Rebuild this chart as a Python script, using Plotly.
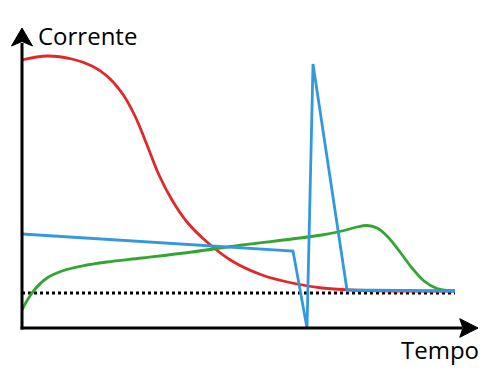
import plotly.graph_objects as go

# Data (time units, current units)
red_t = [0, 25, 50, 70, 85, 100, 113, 125, 137, 150, 165, 185, 210, 240, 270, 300, 330, 380, 433]
red_i = [268, 272, 269, 262, 252, 235, 212, 183, 153, 128, 106, 86, 67, 53, 45, 40, 38, 37, 37]

blue_t = [0, 271, 285, 291, 325, 433]
blue_i = [94, 77, 0, 264, 38, 37]

green_t = [0, 6, 14, 25, 40, 60, 85, 120, 170, 220, 270, 300, 320, 335, 345, 355, 365, 378, 390, 402, 415, 433]
green_i = [18, 29, 40, 50, 57, 62, 66, 70, 76, 83, 89, 93, 97, 101, 102.5, 100, 92, 76, 60, 47, 39.5, 37]

ref_t = [0, 433]
ref_i = [35, 35]

fig = go.Figure()
fig.add_trace(go.Scatter(x=ref_t, y=ref_i, mode="lines",
                         line=dict(color="black", width=3, dash="dot")))
fig.add_trace(go.Scatter(x=red_t, y=red_i, mode="lines",
                         line=dict(color="#e0282c", width=2.8, shape="spline", smoothing=1.0)))
fig.add_trace(go.Scatter(x=green_t, y=green_i, mode="lines",
                         line=dict(color="#33a532", width=2.8, shape="spline", smoothing=1.0)))
fig.add_trace(go.Scatter(x=blue_t, y=blue_i, mode="lines",
                         line=dict(color="#3399dd", width=2.8)))

shapes = [
    dict(type="line", xref="paper", yref="paper", x0=0, x1=0, y0=-0.005, y1=0.95,
         line=dict(color="black", width=3)),
    dict(type="line", xref="paper", yref="paper", x0=-0.003, x1=0.965, y0=0, y1=0,
         line=dict(color="black", width=3)),
    dict(type="path", xref="paper", yref="paper",
         path="M -0.023 0.94 L 0 1.0 L 0.023 0.94 L 0 0.955 Z",
         fillcolor="black", line=dict(color="black", width=1)),
    dict(type="path", xref="paper", yref="paper",
         path="M 0.96 0.031 L 1.0 0 L 0.96 -0.031 L 0.967 0 Z",
         fillcolor="black", line=dict(color="black", width=1)),
]

annotations = [
    dict(text="Corrente", xref="paper", yref="paper", x=0.031, y=0.975,
         xanchor="left", yanchor="middle", showarrow=False,
         font=dict(family="Open Sans", size=24, color="black")),
    dict(text="Tempo", xref="paper", yref="paper", x=1.006, y=-0.07,
         xanchor="right", yanchor="middle", showarrow=False,
         font=dict(family="Open Sans", size=24, color="black")),
]

fig.update_layout(
    width=484, height=379,
    margin=dict(l=14, r=14, t=20, b=59),
    paper_bgcolor="white", plot_bgcolor="white",
    showlegend=False,
    xaxis=dict(range=[0, 456], visible=False),
    yaxis=dict(range=[0, 300], visible=False),
    shapes=shapes, annotations=annotations,
)

fig.write_html("out.html")
